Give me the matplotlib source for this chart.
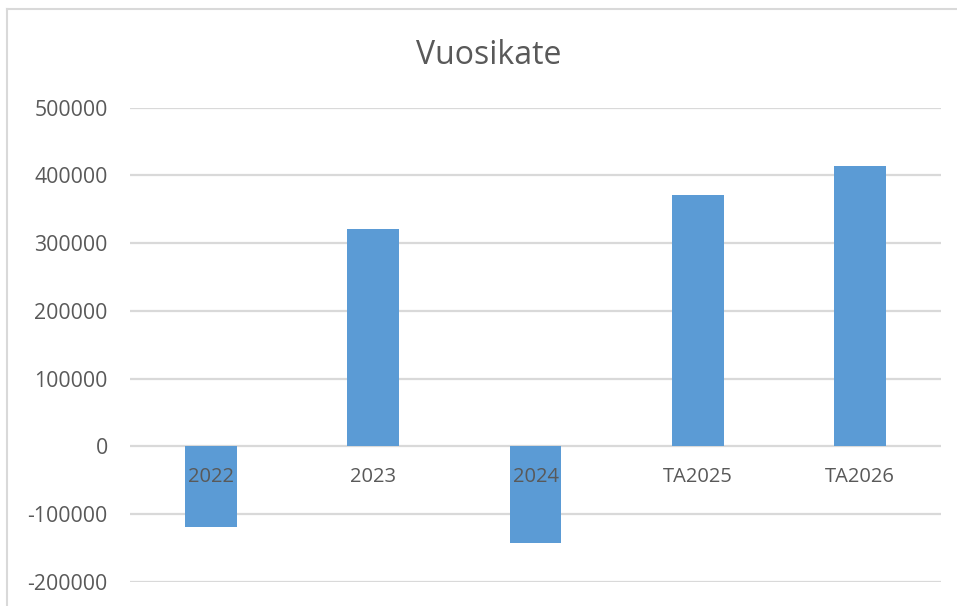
import matplotlib.pyplot as plt
from matplotlib.lines import Line2D
from matplotlib.transforms import blended_transform_factory, offset_copy

plt.rcParams['font.family'] = ['Open Sans', 'DejaVu Sans']

# Vuosikate-arvot
vuodet = ["2022", "2023", "2024", "TA2025", "TA2026"]
vuosikate = [-118800, 320500, -142900, 371500, 413300]
y_ticks = [-200000, -100000, 0, 100000, 200000, 300000, 400000, 500000]

teksti = "#595959"
palkki = "#5b9bd5"
ruudukko = "#d9d9d9"

fig = plt.figure(figsize=(9.57, 6.06), dpi=100)
ax = fig.add_axes([130 / 957, 24.3 / 606, 811 / 957, 474 / 606])

x = list(range(len(vuodet)))
ax.bar(x, vuosikate, width=0.32, color=palkki, zorder=2)

ax.set_xlim(-0.5, len(vuodet) - 0.5)
ax.set_ylim(-200000, 500000)
ax.set_yticks(y_ticks)
ax.set_yticklabels([str(v) for v in y_ticks])
ax.tick_params(axis="y", length=0, pad=16, labelsize=15.3, labelcolor=teksti)
ax.set_xticks([])
ax.grid(axis="y", color=ruudukko, linewidth=1.6, zorder=0)
ax.set_axisbelow(True)
for s in ax.spines.values():
    s.set_visible(False)

# kategoriat nollatason alle, palkkien päälle
tr = offset_copy(blended_transform_factory(ax.transData, ax.transData),
                 fig=fig, x=0, y=-31, units="dots")
for xi, nimi in zip(x, vuodet):
    ax.text(xi, 0, nimi, transform=tr, ha="center", va="center",
            fontsize=14.5, color=teksti, zorder=5)

fig.text(489 / 957, 1 - 55 / 606, "Vuosikate", ha="center", va="center",
         fontsize=23, color=teksti)

# kaavion reunus
fig.add_artist(Line2D([6.5 / 957, 6.5 / 957], [0, 1 - 9 / 606],
                      transform=fig.transFigure, color=ruudukko, linewidth=1.5))
fig.add_artist(Line2D([6.5 / 957, 1], [1 - 9 / 606, 1 - 9 / 606],
                      transform=fig.transFigure, color=ruudukko, linewidth=1.5))

fig.savefig("out.png", dpi=100)
